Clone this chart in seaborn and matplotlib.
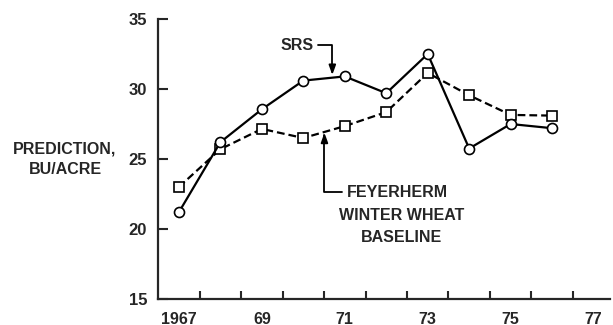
import matplotlib
matplotlib.use("Agg")
import matplotlib.pyplot as plt
import seaborn as sns
import numpy as np

# Crop years and yield predictions (bu/acre)
years = [1967, 1968, 1969, 1970, 1971, 1972, 1973, 1974, 1975, 1976]
srs = [21.2, 26.2, 28.55, 30.6, 30.9, 29.7, 32.5, 25.75, 27.5, 27.2]
feyerherm = [23.0, 25.7, 27.15, 26.5, 27.35, 28.35, 31.15, 29.55, 28.15, 28.1]

x_label_years = [1967, 1969, 1971, 1973, 1975, 1977]
x_label_text = ["1967", "69", "71", "73", "75", "77"]
y_ticks = [15, 20, 25, 30, 35]

sns.set_style("ticks")
plt.rcParams["font.family"] = ["Liberation Sans", "DejaVu Sans"]
plt.rcParams["font.weight"] = "bold"
plt.rcParams["font.size"] = 11.5

fig = plt.figure(figsize=(6.13, 3.25), dpi=100)
ax = fig.add_axes([0.258, 0.08, 0.7374, 0.8615])

sns.lineplot(x=years, y=feyerherm, ax=ax, color="black", lw=1.6,
             linestyle=(0, (3.5, 1.8)), marker="s", markersize=6.8,
             markerfacecolor="white", markeredgecolor="black",
             markeredgewidth=1.2, clip_on=False, zorder=3)
sns.lineplot(x=years, y=srs, ax=ax, color="black", lw=1.6,
             marker="o", markersize=7.2,
             markerfacecolor="white", markeredgecolor="black",
             markeredgewidth=1.2, clip_on=False, zorder=4)

ax.set_xlim(1966.5, 1977.4)
ax.set_ylim(15, 35)
ax.set_yticks(y_ticks)
ax.set_yticklabels([str(v) for v in y_ticks])
ax.set_xticks(x_label_years)
ax.set_xticklabels(x_label_text)
ax.set_xticks(np.arange(1967.5, 1977, 1.0), minor=True)
ax.tick_params(axis="x", which="major", length=0, pad=9, labelsize=11.5)
ax.tick_params(axis="x", which="minor", direction="in", length=6, width=1.5)
ax.tick_params(axis="y", direction="in", length=7, width=1.5, pad=8, labelsize=12)
for s in ["left", "bottom"]:
    ax.spines[s].set_linewidth(1.6)
sns.despine(ax=ax)

ax.set_xlabel("")
ax.set_ylabel("PREDICTION,\nBU/ACRE", rotation=0, ha="center", va="center",
              multialignment="center", fontsize=11.5, fontweight="bold",
              linespacing=1.5)
ax.yaxis.set_label_coords(-0.206, 0.5)

arrow = dict(arrowstyle="-|>,head_length=0.5,head_width=0.18", color="black",
             lw=1.3, shrinkA=1, shrinkB=0,
             connectionstyle="angle,angleA=0,angleB=90,rad=0")

ax.annotate("SRS", xy=(1970.70, 31.0), xytext=(1970.25, 33.14),
            ha="right", va="center", fontsize=11.5, fontweight="bold",
            arrowprops=arrow)
ax.annotate("FEYERHERM", xy=(1970.51, 26.88), xytext=(1971.04, 22.64),
            ha="left", va="center", fontsize=11.5, fontweight="bold",
            arrowprops=arrow)
ax.text(1972.38, 21.0, "WINTER WHEAT", ha="center", va="center",
        fontsize=11.5, fontweight="bold")
ax.text(1972.38, 19.36, "BASELINE", ha="center", va="center",
        fontsize=11.5, fontweight="bold")

fig.savefig("out.png", dpi=100)
